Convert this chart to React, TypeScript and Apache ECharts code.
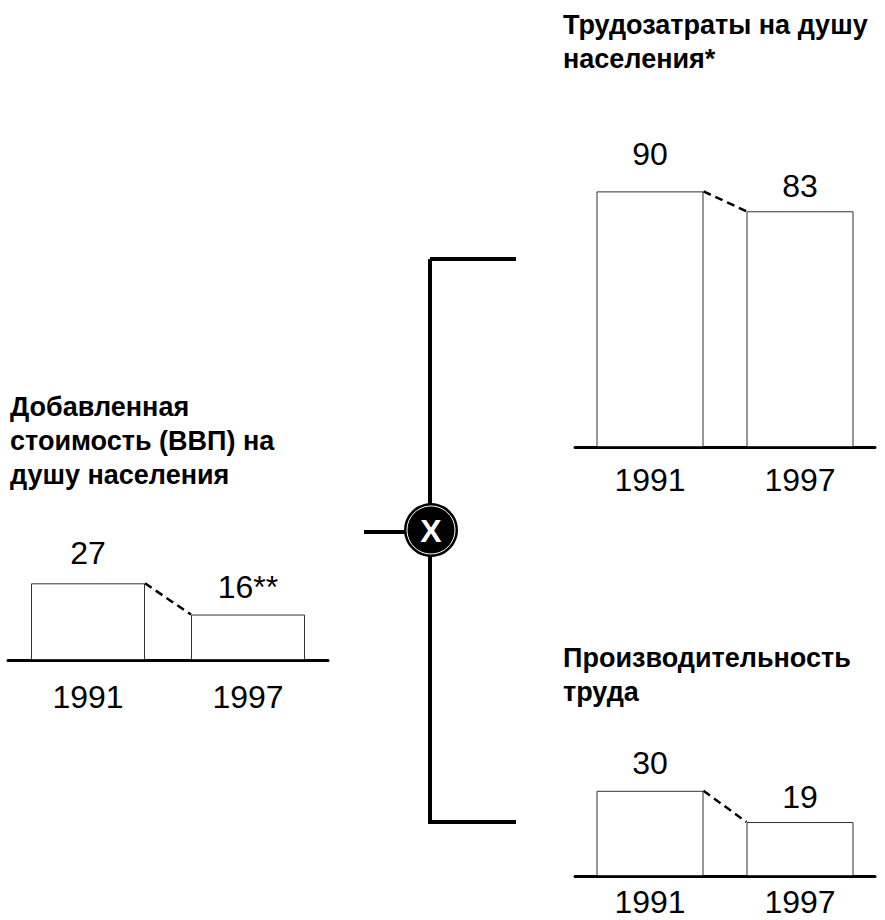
import React, { useEffect, useRef } from "react";
import * as echarts from "echarts";

const categories = ["1991", "1997"];

const gdpValues = [27, 16];
const gdpLabels = ["27", "16**"];
const gdpTitle = "Добавленная\nстоимость (ВВП) на\nдушу населения";

const laborValues = [90, 83];
const laborLabels = ["90", "83"];
const laborTitle = "Трудозатраты на душу\nнаселения*";

const prodValues = [30, 19];
const prodLabels = ["30", "19"];
const prodTitle = "Производительность\nтруда";

const FONT = "Liberation Sans, Arial, sans-serif";

type Panel = {
  values: number[];
  labels: string[];
  title: string;
  grid: { left: number; top: number; width: number; height: number };
  barWidth: number;
  labelDist: number[];
  catMargin: number;
  titlePos: { left: number; top: number };
};

const panels: Panel[] = [
  {
    values: gdpValues,
    labels: gdpLabels,
    title: gdpTitle,
    grid: { left: 8, top: 660 - 284, width: 320, height: 284 },
    barWidth: 114,
    labelDist: [14, 12],
    catMargin: 21,
    titlePos: { left: 10, top: 390 },
  },
  {
    values: laborValues,
    labels: laborLabels,
    title: laborTitle,
    grid: { left: 575, top: 447 - 284, width: 300, height: 284 },
    barWidth: 107,
    labelDist: [21, 9],
    catMargin: 17,
    titlePos: { left: 563, top: 8 },
  },
  {
    values: prodValues,
    labels: prodLabels,
    title: prodTitle,
    grid: { left: 575, top: 876 - 284, width: 300, height: 284 },
    barWidth: 107,
    labelDist: [12, 9],
    catMargin: 10,
    titlePos: { left: 563, top: 641 },
  },
];

export default function App() {
  const ref = useRef<HTMLDivElement>(null);

  useEffect(() => {
    document.body.style.margin = "0";
    if (!ref.current) return;
    const chart = echarts.init(ref.current, null, { renderer: "svg" });

    const series: any[] = [];
    panels.forEach((p, i) => {
      series.push({
        type: "bar",
        xAxisIndex: i,
        yAxisIndex: i,
        barWidth: p.barWidth,
        data: p.values.map((v, j) => ({
          value: v,
          label: { distance: p.labelDist[j], formatter: p.labels[j] },
        })),
        itemStyle: { color: "#fff", borderColor: "#333", borderWidth: 1 },
        label: {
          show: true,
          position: "top",
          fontSize: 32,
          color: "#000",
          fontFamily: FONT,
        },
        z: 3,
      });
      const half = p.barWidth / 2;
      series.push({
        type: "custom",
        xAxisIndex: i,
        yAxisIndex: i,
        data: [[0, p.values[0], p.values[1]]],
        encode: { x: 0, y: 1 },
        z: 4,
        renderItem: (params: any, api: any) => {
          const a = api.coord([0, api.value(1)]);
          const b = api.coord([1, api.value(2)]);
          return {
            type: "line",
            shape: { x1: a[0] + half, y1: a[1], x2: b[0] - half, y2: b[1] },
            style: { stroke: "#000", lineWidth: 2.5, lineDash: [8, 5] },
          };
        },
      });
    });

    const option: any = {
      animation: false,
      backgroundColor: "#fff",
      title: panels.map((p) => ({
        text: p.title,
        left: p.titlePos.left,
        top: p.titlePos.top,
        padding: 0,
        textStyle: {
          fontSize: 27,
          fontWeight: "bold",
          lineHeight: 34,
          color: "#000",
          fontFamily: FONT,
        },
      })),
      grid: panels.map((p) => ({ ...p.grid, containLabel: false })),
      xAxis: panels.map((p, i) => ({
        type: "category",
        gridIndex: i,
        data: categories,
        axisLine: { show: true, lineStyle: { color: "#000", width: 3 } },
        axisTick: { show: false },
        axisLabel: {
          fontSize: 32,
          color: "#000",
          margin: p.catMargin,
          fontFamily: FONT,
        },
        splitLine: { show: false },
      })),
      yAxis: panels.map((p, i) => ({
        type: "value",
        gridIndex: i,
        min: 0,
        max: 100,
        show: false,
      })),
      series,
      graphic: [
        {
          type: "line",
          shape: { x1: 430, y1: 259, x2: 430, y2: 822 },
          style: { stroke: "#000", lineWidth: 4 },
        },
        {
          type: "polyline",
          shape: { points: [[430, 259], [516, 259]] },
          style: { stroke: "#000", lineWidth: 4 },
        },
        {
          type: "polyline",
          shape: { points: [[428, 822], [516, 822]] },
          style: { stroke: "#000", lineWidth: 4 },
        },
        {
          type: "line",
          shape: { x1: 364, y1: 532, x2: 410, y2: 532 },
          style: { stroke: "#000", lineWidth: 4 },
        },
        {
          type: "circle",
          shape: { cx: 431, cy: 530, r: 27 },
          style: { fill: "#000" },
          z: 10,
        },
        {
          type: "circle",
          shape: { cx: 431, cy: 530, r: 24 },
          style: { fill: "none", stroke: "#fff", lineWidth: 1 },
          z: 11,
        },
        {
          type: "text",
          x: 431,
          y: 531,
          style: {
            text: "X",
            fill: "#fff",
            fontSize: 32,
            fontWeight: "bold",
            fontFamily: FONT,
            align: "center",
            verticalAlign: "middle",
          },
          z: 12,
        },
      ],
    };

    chart.setOption(option);
    return () => chart.dispose();
  }, []);

  return <div ref={ref} style={{ width: 885, height: 920 }} />;
}
